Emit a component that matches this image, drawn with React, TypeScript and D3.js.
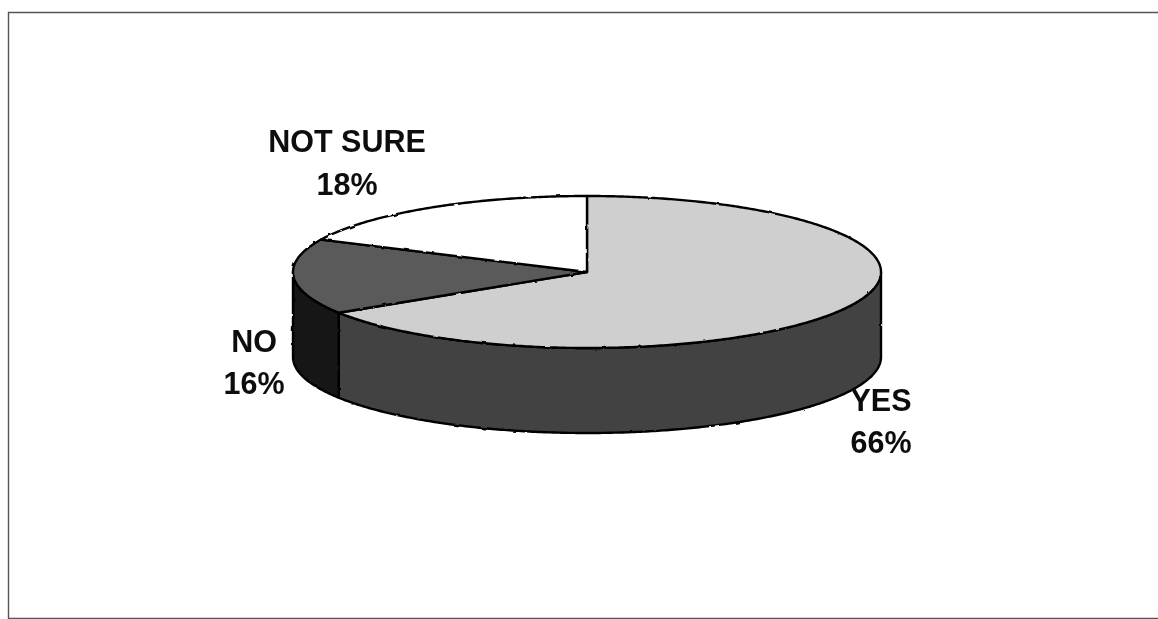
import React from "react";
import * as d3 from "d3";

// Survey responses, in the order they run clockwise from twelve o'clock.
const categories = ["YES", "NO", "NOT SURE"];
const shares = [66, 16, 18];
const percentLabels = ["66%", "16%", "18%"];

const topFills = ["#cfcfcf", "#5a5a5a", "#ffffff"];
const wallFills = ["#424242", "#141414", "#ffffff"];

const WIDTH = 1158;
const HEIGHT = 619;
const CX = 587;
const CY = 272;
const RX = 294;
const RY = 76;
const DEPTH = 85;

const labelLines: Record<string, { x: number; y1: number; y2: number }> = {
  YES: { x: 881, y1: 411, y2: 453 },
  NO: { x: 254, y1: 352, y2: 394 },
  "NOT SURE": { x: 347, y1: 152, y2: 195 },
};

// Tilted-disc projection: angle is clockwise from the top of the ellipse.
const px = (a: number) => CX + RX * Math.sin(a);
const py = (a: number, drop = 0) => CY - RY * Math.cos(a) + drop;

const arcPoints = (a0: number, a1: number, drop = 0): [number, number][] => {
  const n = Math.max(2, Math.ceil(Math.abs(a1 - a0) / 0.01));
  return d3.range(n + 1).map((i) => {
    const a = a0 + ((a1 - a0) * i) / n;
    return [px(a), py(a, drop)] as [number, number];
  });
};

const line = d3.line();

const pie = d3
  .pie<number>()
  .sort(null)
  .value((d) => d);

export default function App() {
  const slices = pie(shares);
  const RIGHT = Math.PI / 2;
  const LEFT = (3 * Math.PI) / 2;

  return (
    <svg
      width={WIDTH}
      height={HEIGHT}
      viewBox={`0 0 ${WIDTH} ${HEIGHT}`}
      style={{ position: "absolute", left: 0, top: 0, background: "#fff" }}
      fontFamily='"Liberation Sans", Arial, sans-serif'
    >
      <defs>
        <filter id="soft" x="-5%" y="-5%" width="110%" height="110%">
          <feGaussianBlur stdDeviation="0.5" />
        </filter>
        {/* slightly rough printed edge on the disc outline, with fine grain */}
        <filter id="rough" x="-5%" y="-5%" width="110%" height="110%">
          <feTurbulence type="fractalNoise" baseFrequency="0.09" numOctaves={2} seed={4} result="n" />
          <feDisplacementMap in="SourceGraphic" in2="n" scale={2.2} result="d" />
          <feGaussianBlur in="d" stdDeviation="0.5" />
        </filter>
      </defs>

      {/* chart frame: open on the right-hand side */}
      <path
        d={`M${WIDTH},12.5 H8.5 V618.5 H${WIDTH}`}
        fill="none"
        stroke="#555"
        strokeWidth={1.4}
      />

      <g filter="url(#rough)">
        {/* outer walls of the slices that face the viewer */}
        {slices.map((s, i) => {
          const a0 = Math.max(s.startAngle, RIGHT);
          const a1 = Math.min(s.endAngle, LEFT);
          if (a1 <= a0) return null;
          const pts = [...arcPoints(a0, a1), ...arcPoints(a1, a0, DEPTH)];
          return (
            <path
              key={categories[i]}
              d={line(pts) + "Z"}
              fill={wallFills[i]}
              stroke="#000"
              strokeWidth={2.4}
              strokeLinejoin="round"
            />
          );
        })}

        {/* top faces */}
        {slices.map((s, i) => {
          const pts: [number, number][] = [
            [CX, CY],
            ...arcPoints(s.startAngle, s.endAngle),
          ];
          return (
            <path
              key={categories[i]}
              d={line(pts) + "Z"}
              fill={topFills[i]}
              stroke="#000"
              strokeWidth={2.4}
              strokeLinejoin="round"
            />
          );
        })}
      </g>

      {/* category and share labels */}
      <g
        filter="url(#soft)"
        fontSize={30.5}
        fontWeight={700}
        fill="#111"
        textAnchor="middle"
      >
        {categories.map((c, i) => (
          <g key={c}>
            <text x={labelLines[c].x} y={labelLines[c].y1}>
              {c}
            </text>
            <text x={labelLines[c].x} y={labelLines[c].y2}>
              {percentLabels[i]}
            </text>
          </g>
        ))}
      </g>
    </svg>
  );
}
